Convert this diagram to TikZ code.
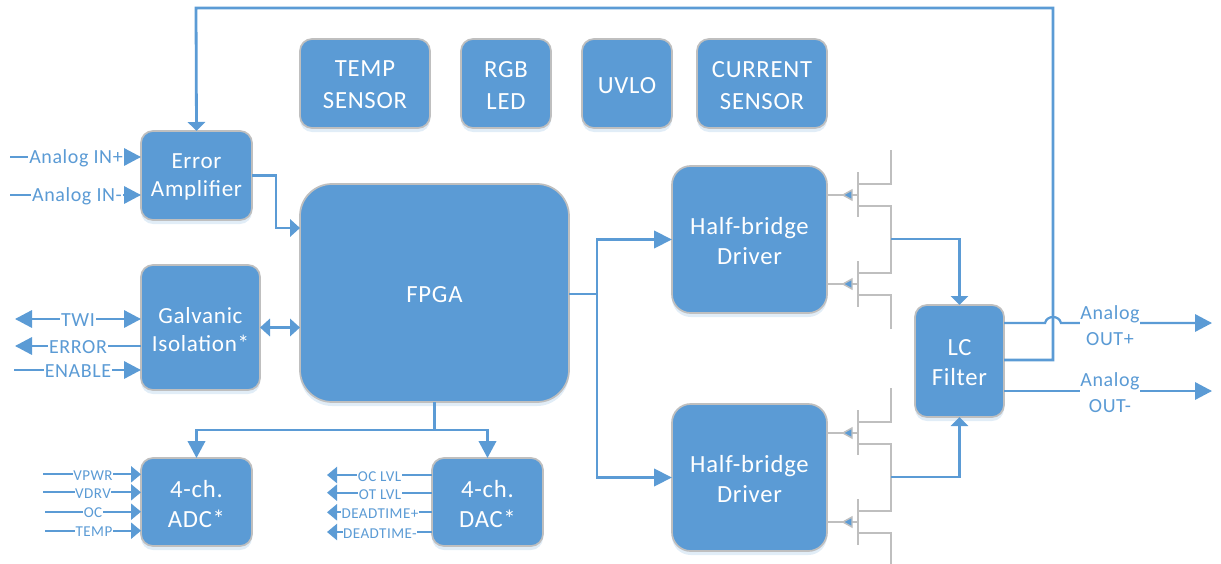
\documentclass[tikz,border=0pt]{standalone}
\usepackage{fontspec}
\setmainfont{Carlito}[LetterSpace=3]
\usetikzlibrary{arrows.meta,shadows,calc}
\definecolor{bluefill}{HTML}{5B9BD5}
\definecolor{edgegray}{HTML}{BFBFBF}
\newcommand{\blkfs}{18.5}
\tikzset{
  x=0.75pt,y=-0.75pt,
  sz/.style 2 args={minimum width=#1*0.75pt,minimum height=#2*0.75pt},
  blk/.style={draw=edgegray,line width=1.3pt,fill=bluefill,inner sep=0pt,outer sep=0pt,
    rounded corners=9pt,drop shadow={opacity=0.18,fill=bluefill,shadow xshift=0pt,shadow yshift=-3pt}},
  blktext/.style={text=white,align=center,inner sep=0pt,yshift=-1.2pt,font=\fontsize{\blkfs}{#1}\selectfont},
  wire/.style={draw=bluefill,line width=2.1pt},
  thin wire/.style={draw=bluefill,line width=1.7pt},
  hd/.style={-{Triangle[length=#1*0.75pt,width=13pt,fill=bluefill]}},
  sd/.style={-{Triangle[length=#1*0.75pt,width=12pt,fill=bluefill]}},
  dhd/.style={{Triangle[length=#1*0.75pt,width=13pt,fill=bluefill]}-{Triangle[length=#1*0.75pt,width=13pt,fill=bluefill]}},
  lab/.style={fill=white,text=bluefill,inner sep=0.6pt,font=\fontsize{15}{18}\selectfont,align=center},
  slab/.style={fill=white,text=bluefill,inner sep=0.4pt,font=\fontsize{11.3}{13}\selectfont},
  fet/.style={draw=edgegray,line width=1.4pt},
  gatehead/.style={draw=edgegray,line width=1.1pt,fill=bluefill},
  halfbridge/.pic={
    \coordinate (-g1) at (0,0);
    \coordinate (-g2) at (0,89);
    \coordinate (-mid) at (33,44);
    \draw[fet] (0,-23) -- (0,22);
    \draw[fet] (0,-11) -- (33,-11) -- (33,-45);
    \draw[fet] (0,11) -- (33,11) -- (33,78) -- (0,78);
    \draw[fet] (0,66) -- (0,112);
    \draw[fet] (0,100) -- (33,100) -- (33,134);
  },
}
% \blk[box options]{name}{centre}{width}{height}{baseline skip}{text}
\newcommand{\blk}[7][]{%
  \node[blk,sz={#4}{#5},#1] (#2) at (#3) {};
  \node[blktext=#6] (#2-t) at (#2.center) {#7};}
\newcommand{\gatewire}[2]{%
  \draw[fet] (#1 -| #2.east) -- (#1);
  \draw[gatehead] ($(#1)+(-6,-5)$) -- ($(#1)+(-15,0)$) -- ($(#1)+(-6,5)$) -- cycle;}
\begin{document}
\begin{tikzpicture}
\useasboundingbox (0,0) rectangle (1221,564);
% blocks
\blk{temp}{365,83.5}{130}{89}{24pt}{TEMP\\SENSOR}
\blk{rgb}{506,83.5}{90}{89}{24pt}{RGB\\LED}
\blk{uvlo}{627,83.5}{90}{89}{24pt}{UVLO}
\blk{cur}{762,83.5}{130}{89}{24pt}{CURRENT\\SENSOR}
\renewcommand{\blkfs}{17.3}
\blk{err}{196.5,175.5}{111}{89}{21pt}{Error\\Amplifier}
\blk{gal}{200.5,327.5}{119}{125}{21pt}{Galvanic\\Isolation*}
\renewcommand{\blkfs}{18.5}
\blk[rounded corners=24pt]{fpga}{434.5,293}{269}{218}{22pt}{FPGA}
\blk{adc}{196.5,502}{111}{88}{22.5pt}{4-ch.\\ADC*}
\blk{dac}{487.5,502}{111}{88}{22.5pt}{4-ch.\\DAC*}
\blk[rounded corners=14pt]{hb1}{749.5,239.5}{155}{147}{22.5pt}{Half-bridge\\Driver}
\blk[rounded corners=14pt]{hb2}{749.5,477.5}{155}{147}{22.5pt}{Half-bridge\\Driver}
\blk{lc}{959.5,361}{89}{112}{22.5pt}{LC\\Filter}
% transistors
\pic (qa) at (858,195) {halfbridge};
\pic (qb) at (858,433) {halfbridge};
\gatewire{qa-g1}{hb1}
\gatewire{qa-g2}{hb1}
\gatewire{qb-g1}{hb2}
\gatewire{qb-g2}{hb2}
% free ends
\coordinate (inp) at (10,157);
\coordinate (inm) at (10,195);
\coordinate (twi) at (15,319);
\coordinate (erro) at (15,346);
\coordinate (ena) at (14,370);
\coordinate (vpwr) at (43,474.3);
\coordinate (vdrv) at (43,492.3);
\coordinate (oc) at (45,511.7);
\coordinate (tmp) at (45,530.7);
\coordinate (oclvl) at (327,475);
\coordinate (otlvl) at (327,492.7);
\coordinate (dtp) at (327,512.3);
\coordinate (dtm) at (327,532);
\coordinate (outp) at (1212,323);
\coordinate (outm) at (1212,391);
% internal connectors
\draw[wire,hd=10] (err.east) -- (276,175.5) |- (fpga.west |- 0,228);
\draw[wire,dhd=10] (gal.east) -- (fpga.west |- gal.east);
\coordinate (split) at (597,294);
\draw[wire] (fpga.east |- split) -- (split);
\draw[wire,hd=18] (split) |- (hb1.west);
\draw[wire,hd=18] (split) |- (hb2.west);
\coordinate (down) at (434,430);
\draw[wire] (fpga.south) -- (fpga.south |- down);
\draw[wire,hd=17] (fpga.south |- down) -| (adc.north);
\draw[wire,hd=17] (fpga.south |- down) -| (dac.north);
\draw[wire,hd=9] (qa-mid) -| (lc.north);
\draw[wire,hd=9] (qb-mid) -| (lc.south);
\draw[wire,hd=9] (lc.east |- 0,360) -- (1053,360) -- (1053,8) -- (196,8) -- (err.north);
% outputs
\coordinate (ja) at (1045,323);
\coordinate (jb) at (1061,323);
\draw[wire,hd=17,line width=1.7pt] (lc.east |- outp) -- (ja) .. controls ($(ja)+(2,-8)$) and ($(jb)+(-2,-8)$) .. (jb) -- (outp);
\draw[wire,hd=17,line width=1.7pt] (lc.east |- outm) -- (outm);
\node[lab,font=\fontsize{15}{19.5}\selectfont] (lo1) at (1110,326) {Analog\\OUT+};
\node[lab,font=\fontsize{15}{19.5}\selectfont] (lo2) at (1110,393) {Analog\\OUT-};
% inputs
\draw[thin wire,hd=17] (inp) -- (err.west |- inp);
\draw[thin wire,hd=17] (inm) -- (err.west |- inm);
\draw[thin wire,dhd=17] (twi) -- (gal.west |- twi);
\draw[thin wire,hd=17] (gal.west |- erro) -- (erro);
\draw[thin wire,hd=17] (ena) -- (gal.west |- ena);
\node[lab] (l1) at (76,158.5) {Analog IN+};
\node[lab] (l2) at (77,196.5) {Analog IN-};
\node[lab] (l3) at (78,320.5) {TWI};
\node[lab] (l4) at (78,347.5) {ERROR};
\node[lab] (l5) at (78,371.5) {ENABLE};
% ADC / DAC signals
\foreach \c in {vpwr,vdrv,oc,tmp}
  \draw[thin wire,sd=10] (\c) -- (adc.west |- \c);
\foreach \c in {oclvl,otlvl,dtp,dtm}
  \draw[thin wire,sd=10] (dac.west |- \c) -- (\c);
\node[slab] (s1) at (93,475.5) {VPWR};
\node[slab] (s2) at (93,493.5) {VDRV};
\node[slab] (s3) at (93,513) {OC};
\node[slab] (s4) at (94,532) {TEMP};
\node[slab] (s5) at (379.5,476.5) {OC LVL};
\node[slab] (s6) at (380,494.2) {OT LVL};
\node[slab] (s7) at (380,513.8) {DEADTIME+};
\node[slab] (s8) at (380,533.5) {DEADTIME-};
\end{tikzpicture}
\end{document}
